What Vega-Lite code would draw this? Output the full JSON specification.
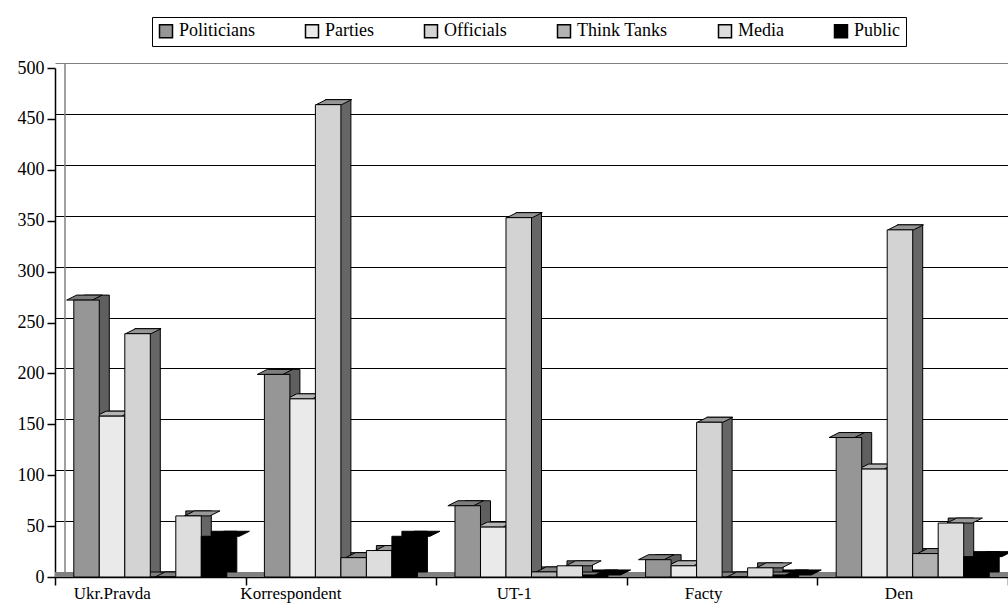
{
  "$schema": "https://vega.github.io/schema/vega-lite/v6.json",
  "width": 953,
  "height": 509,
  "autosize": {"type": "none"},
  "padding": {"left": 55, "top": 68, "right": 0, "bottom": 36},
  "background": "white",
  "config": {"view": {"stroke": null}, "font": "Liberation Serif"},
  "data": {
    "values": [
      {"outlet": "Ukr.Pravda", "source": "Politicians", "count": 272},
      {"outlet": "Ukr.Pravda", "source": "Parties", "count": 158},
      {"outlet": "Ukr.Pravda", "source": "Officials", "count": 239},
      {"outlet": "Ukr.Pravda", "source": "Think Tanks", "count": 0},
      {"outlet": "Ukr.Pravda", "source": "Media", "count": 60},
      {"outlet": "Ukr.Pravda", "source": "Public", "count": 40},
      {"outlet": "Korrespondent", "source": "Politicians", "count": 199},
      {"outlet": "Korrespondent", "source": "Parties", "count": 175},
      {"outlet": "Korrespondent", "source": "Officials", "count": 464},
      {"outlet": "Korrespondent", "source": "Think Tanks", "count": 19},
      {"outlet": "Korrespondent", "source": "Media", "count": 26},
      {"outlet": "Korrespondent", "source": "Public", "count": 40},
      {"outlet": "UT-1", "source": "Politicians", "count": 70},
      {"outlet": "UT-1", "source": "Parties", "count": 49},
      {"outlet": "UT-1", "source": "Officials", "count": 353},
      {"outlet": "UT-1", "source": "Think Tanks", "count": 5},
      {"outlet": "UT-1", "source": "Media", "count": 11},
      {"outlet": "UT-1", "source": "Public", "count": 2},
      {"outlet": "Facty", "source": "Politicians", "count": 17},
      {"outlet": "Facty", "source": "Parties", "count": 11},
      {"outlet": "Facty", "source": "Officials", "count": 152},
      {"outlet": "Facty", "source": "Think Tanks", "count": 0},
      {"outlet": "Facty", "source": "Media", "count": 9},
      {"outlet": "Facty", "source": "Public", "count": 2},
      {"outlet": "Den", "source": "Politicians", "count": 137},
      {"outlet": "Den", "source": "Parties", "count": 106},
      {"outlet": "Den", "source": "Officials", "count": 341},
      {"outlet": "Den", "source": "Think Tanks", "count": 23},
      {"outlet": "Den", "source": "Media", "count": 53},
      {"outlet": "Den", "source": "Public", "count": 20}
    ]
  },
  "resolve": {"scale": {"y": "independent"}, "axis": {"y": "independent"}},
  "layer": [
    {
      "data": {"values": [{}]},
      "layer": [
        {
          "mark": {"type": "rule", "color": "#808080", "strokeWidth": 5, "yOffset": 2.5, "xOffset": 5, "x2Offset": 10},
          "encoding": {
            "y": {"datum": 0, "type": "quantitative",
              "scale": {"domain": [0, 500], "range": [504, -5], "nice": false, "zero": true},
              "axis": {
                "orient": "right", "grid": true, "labels": false, "ticks": false, "domain": false, "title": null,
                "values": [0, 50, 100, 150, 200, 250, 300, 350, 400, 450, 500],
                "gridColor": {"condition": {"test": "datum.value === 500", "value": "#808080"}, "value": "black"},
                "gridWidth": 1.2, "gridOpacity": 1
              }
            }
          }
        },
        {
          "mark": {"type": "rule", "color": "#808080", "strokeWidth": 1.5, "xOffset": 10, "x2Offset": 10},
          "encoding": {
            "x": {"datum": "Ukr.Pravda", "type": "nominal", "bandPosition": 0},
            "y": {"datum": 0, "type": "quantitative"},
            "y2": {"datum": 500}
          }
        }
      ]
    },
    {
      "encoding": {
        "x": {
          "field": "outlet", "type": "nominal", "sort": null,
          "scale": {"paddingInner": 0, "paddingOuter": 0},
          "axis": {
            "title": null, "labelAngle": 0, "tickBand": "extent", "tickSize": 8, "tickColor": "black", "tickWidth": 1.5,
            "domainColor": "black", "domainWidth": 1.5, "labelFontSize": 17, "labelColor": "black",
            "labelPadding": 8, "labelFont": "Liberation Serif", "grid": false
          }
        },
        "xOffset": {
          "field": "source", "type": "nominal",
          "sort": ["Politicians", "Parties", "Officials", "Think Tanks", "Media", "Public"],
          "scale": {"paddingInner": 0, "paddingOuter": 0.737}
        }
      },
      "resolve": {"scale": {"color": "independent", "y": "independent", "xOffset": "independent"}},
      "layer": [
        {
          "mark": {"type": "bar", "stroke": "black", "strokeWidth": 1},
          "encoding": {
            "xOffset": {
              "field": "source", "type": "nominal",
              "sort": ["Politicians", "Parties", "Officials", "Think Tanks", "Media", "Public"],
              "scale": {"paddingInner": 0, "paddingOuter": 0.737, "range": [10, 200.6]}
            },
            "y": {
              "field": "count", "type": "quantitative",
              "scale": {"domain": [0, 500], "range": [504, -5], "nice": false},
              "axis": null
            },
            "color": {
              "field": "source", "type": "nominal", "legend": null,
              "scale": {
                "domain": ["Politicians", "Parties", "Officials", "Think Tanks", "Media", "Public"],
                "range": ["#5f5f5f", "#6e6e6e", "#666666", "#5a5a5a", "#666666", "#000000"]
              }
            }
          }
        },
        {
          "mark": {
            "type": "point", "shape": "M -10 0 L 15.5 0 L 25.5 -5 L 0 -5 Z", "size": 4,
            "filled": true, "opacity": 1, "stroke": "black", "strokeWidth": 1
          },
          "encoding": {
            "y": {
              "field": "count", "type": "quantitative",
              "scale": {"domain": [0, 500], "nice": false},
              "axis": null
            },
            "color": {
              "field": "source", "type": "nominal", "legend": null,
              "scale": {
                "domain": ["Politicians", "Parties", "Officials", "Think Tanks", "Media", "Public"],
                "range": ["#7d7d7d", "#b4b4b4", "#969696", "#808080", "#999999", "#000000"]
              }
            }
          }
        },
        {
          "mark": {"type": "bar", "stroke": "black", "strokeWidth": 1},
          "encoding": {
            "y": {
              "field": "count", "type": "quantitative",
              "scale": {"domain": [0, 500], "nice": false},
              "axis": {
                "orient": "left", "title": null, "grid": false,
                "values": [0, 50, 100, 150, 200, 250, 300, 350, 400, 450, 500],
                "tickSize": 8, "tickColor": "black", "tickWidth": 1.5,
                "domainColor": "black", "domainWidth": 1.5,
                "labelFontSize": 18, "labelColor": "black", "labelPadding": 3, "labelFont": "Liberation Serif"
              }
            },
            "color": {
              "field": "source", "type": "nominal",
              "scale": {
                "domain": ["Politicians", "Parties", "Officials", "Think Tanks", "Media", "Public"],
                "range": ["#969696", "#eaeaea", "#d3d3d3", "#b2b2b2", "#dddddd", "#000000"]
              },
              "legend": {
                "orient": "none", "legendX": 97, "legendY": -51, "direction": "horizontal", "columns": 6,
                "title": null, "symbolType": "square", "symbolSize": 169, "symbolStrokeColor": "black",
                "symbolStrokeWidth": 1.5, "symbolOpacity": 1, "labelFontSize": 18, "labelFont": "Liberation Serif",
                "labelColor": "black", "columnPadding": 47, "labelOffset": 4, "padding": 5,
                "strokeColor": "black", "fillColor": "white"
              }
            }
          }
        }
      ]
    }
  ]
}
